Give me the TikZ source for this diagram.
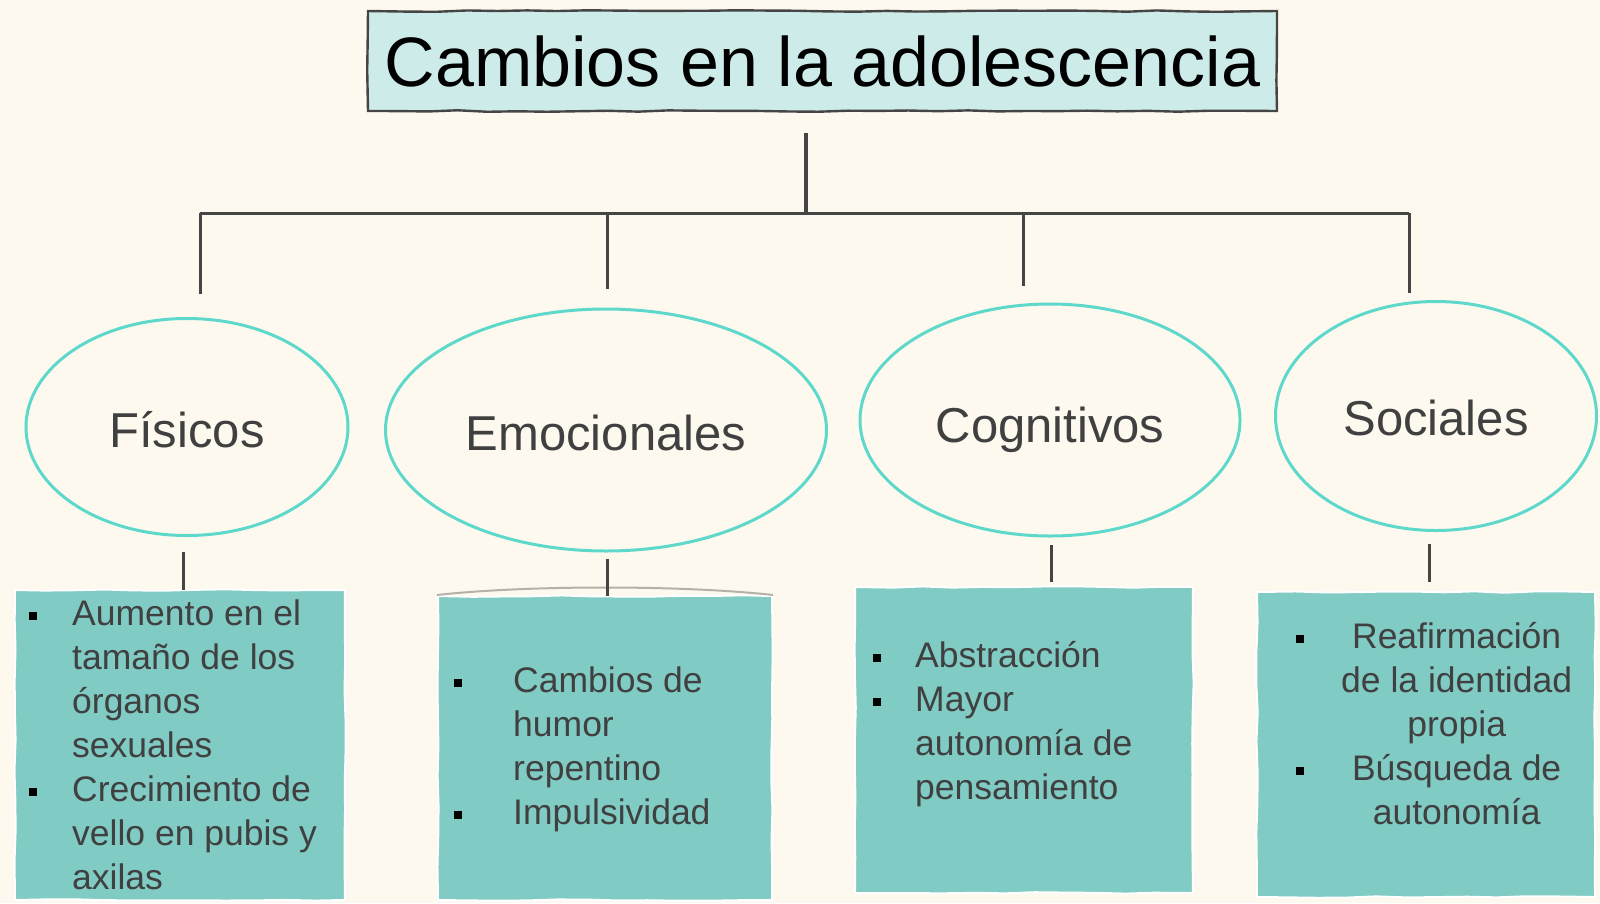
\documentclass[tikz,border=0pt]{standalone}
\usepackage{fontspec}
\setmainfont{Liberation Sans}
\usetikzlibrary{decorations.pathmorphing,shapes.geometric}
\definecolor{bgc}{HTML}{FDF9EE}
\definecolor{titlefill}{HTML}{CDEBE8}
\definecolor{boxfill}{HTML}{80CBC4}
\definecolor{ovalc}{HTML}{5FD8CC}
\definecolor{linec}{HTML}{454545}
\definecolor{txtc}{HTML}{404040}
\definecolor{curlc}{HTML}{B5B1A8}
\newcommand\bul{\textcolor{black}{\rule[5pt]{8pt}{8pt}}}
\begin{document}
\begin{tikzpicture}[x=1pt,y=-1pt,
  titlebox/.style={draw=linec, line width=2.4pt, fill=titlefill, inner sep=0pt,
    decorate, decoration={random steps,segment length=30pt,amplitude=0.8pt},
    font=\fontsize{70}{84}\selectfont, text=black},
  oval/.style={ellipse, draw=ovalc, line width=3pt, inner sep=0pt},
  ovaltext/.style={inner sep=0pt, font=\fontsize{49}{58}\selectfont, text=txtc},
  notebox/.style={draw=white, line width=2pt, fill=boxfill, inner sep=0pt,
    decorate, decoration={random steps,segment length=30pt,amplitude=0.8pt}},
  listtext/.style={anchor=north west, inner sep=0pt, text=txtc,
    font=\fontsize{35.5}{44}\selectfont},
  conn/.style={draw=linec, line width=3pt}
]
\useasboundingbox (0,0) rectangle (1600,903);
\fill[bgc] (0,0) rectangle (1600,903);

% title
\node[titlebox, minimum width=909pt, minimum height=100pt] (title) at (822.5,61) {Cambios en la adolescencia};

% ovals
\node[oval, minimum width=322pt, minimum height=217pt] (fis) at (187,427) {};
\node[oval, minimum width=441pt, minimum height=242pt] (emo) at (606,430) {};
\node[oval, minimum width=380pt, minimum height=232pt] (cog) at (1050,420) {};
\node[oval, minimum width=321pt, minimum height=229pt] (soc) at (1436,416) {};
\node[ovaltext] (fist) at (187,430) {Físicos};
\node[ovaltext] (emot) at (606,433) {Emocionales};
\node[ovaltext] (cogt) at (1050,430) {Cognitivos};
\node[ovaltext] (soct) at (1436,418) {Sociales};

% boxes
\node[notebox, minimum width=330pt, minimum height=310pt] (b1) at (180,745) {};
\node[notebox, minimum width=334pt, minimum height=304pt] (b2) at (605,748) {};
\node[notebox, minimum width=338pt, minimum height=306pt] (b3) at (1024,740) {};
\node[notebox, minimum width=338pt, minimum height=305pt] (b4) at (1426,744.5) {};
\draw[curlc, line width=2pt] (b2.north west) .. controls ([xshift=90pt,yshift=10pt]b2.north west) and ([xshift=-90pt,yshift=10pt]b2.north east) .. (b2.north east);

% list texts
\node[listtext] (t1) at (29,594) {\begin{tabular}{@{}p{43pt}@{}l@{}}
\bul & Aumento en el\\
 & tamaño de los\\
 & órganos\\
 & sexuales\\
\bul & Crecimiento de\\
 & vello en pubis y\\
 & axilas
\end{tabular}};
\node[listtext] (t2) at (454,661) {\begin{tabular}{@{}p{59pt}@{}l@{}}
\bul & Cambios de\\
 & humor\\
 & repentino\\
\bul & Impulsividad
\end{tabular}};
\node[listtext] (t3) at (873,636) {\begin{tabular}{@{}p{42pt}@{}l@{}}
\bul & Abstracción\\
\bul & Mayor\\
 & autonomía de\\
 & pensamiento
\end{tabular}};
\node[listtext] (t4) at (1296,617) {\begin{tabular}{@{}p{45pt}@{}c@{}}
\bul & Reafirmación\\
 & de la identidad\\
 & propia\\
\bul & Búsqueda de\\
 & autonomía
\end{tabular}};

% connector coordinates
\coordinate (top) at (806,133);
\coordinate (j) at (806,213);
\coordinate (h1) at (200,213);
\coordinate (h2) at (607,213);
\coordinate (h3) at (1023,213);
\coordinate (h4) at (1409,213);
\coordinate (d1) at (200,294);
\coordinate (d2) at (607,289);
\coordinate (d3) at (1023,286);
\coordinate (d4) at (1409,293);
\coordinate (u1) at (183,552);
\coordinate (v1) at (183,590);
\coordinate (u2) at (607,559);
\coordinate (v2) at (607,596);
\coordinate (u3) at (1051,545);
\coordinate (v3) at (1051,582);
\coordinate (u4) at (1429,544);
\coordinate (v4) at (1429,582);

\draw[conn, line width=4pt] (top) -- (j);
\draw[conn] (h1) -- (h4);
\draw[conn] (h1) -- (d1);
\draw[conn] (h2) -- (d2);
\draw[conn] (h3) -- (d3);
\draw[conn] (h4) -- (d4);
\draw[conn] (u1) -- (v1);
\draw[conn] (u2) -- (v2);
\draw[conn] (u3) -- (v3);
\draw[conn] (u4) -- (v4);
\end{tikzpicture}
\end{document}
